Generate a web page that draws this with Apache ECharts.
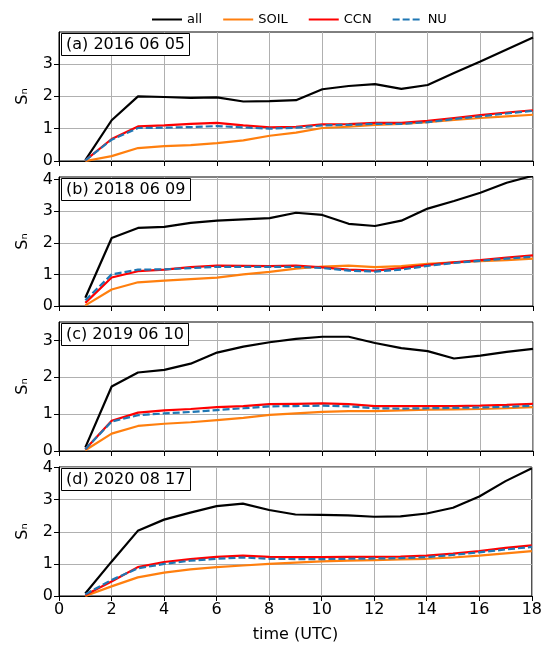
<!DOCTYPE html>
<html>
<head>
<meta charset="utf-8">
<script src="https://cdn.jsdelivr.net/npm/echarts@6/dist/echarts.min.js"></script>
<style>html,body{margin:0;padding:0;background:#fff}#c{width:545px;height:646px}</style>
</head>
<body>
<div id="c"></div>
<script>
const hours = [1,2,3,4,5,6,7,8,9,10,11,12,13,14,15,16,17,18];
const xTicks = [0,2,4,6,8,10,12,14,16,18];
const panelTitles = ['(a) 2016 06 05','(b) 2018 06 09','(c) 2019 06 10','(d) 2020 08 17'];
const seriesNames = ['all','SOIL','CCN','NU'];
const yMax = [3.99, 4.08, 3.5, 4.02];
const yTicks = [[0,1,2,3],[0,1,2,3,4],[0,1,2,3],[0,1,2,3,4]];

const allA  = [0.03,1.26,2.0,1.98,1.95,1.97,1.84,1.85,1.88,2.22,2.32,2.38,2.23,2.35,2.72,3.08,3.45,3.82];
const soilA = [0.0,0.15,0.4,0.46,0.49,0.55,0.64,0.78,0.88,1.02,1.06,1.12,1.15,1.2,1.27,1.33,1.38,1.43];
const ccnA  = [0.02,0.68,1.07,1.1,1.15,1.18,1.1,1.04,1.06,1.13,1.14,1.18,1.18,1.24,1.33,1.42,1.5,1.57];
const nuA   = [0.02,0.66,1.02,1.03,1.05,1.08,1.04,1.0,1.03,1.1,1.12,1.15,1.15,1.2,1.3,1.38,1.47,1.55];

const allB  = [0.26,2.15,2.47,2.5,2.63,2.7,2.74,2.78,2.95,2.88,2.6,2.53,2.7,3.08,3.32,3.58,3.9,4.12];
const soilB = [0.02,0.52,0.75,0.8,0.85,0.9,1.0,1.08,1.18,1.25,1.28,1.23,1.26,1.33,1.38,1.42,1.45,1.5];
const ccnB  = [0.1,0.9,1.1,1.15,1.23,1.28,1.27,1.26,1.28,1.22,1.15,1.12,1.2,1.3,1.38,1.45,1.53,1.6];
const nuB   = [0.18,1.0,1.15,1.16,1.2,1.24,1.24,1.24,1.24,1.2,1.12,1.09,1.15,1.27,1.36,1.43,1.5,1.56];

const allC  = [0.1,1.75,2.13,2.2,2.37,2.67,2.83,2.95,3.04,3.1,3.1,2.93,2.79,2.71,2.51,2.59,2.69,2.77];
const soilC = [0.02,0.47,0.68,0.74,0.78,0.84,0.9,0.98,1.02,1.06,1.08,1.08,1.1,1.12,1.13,1.14,1.16,1.19];
const ccnC  = [0.05,0.82,1.04,1.1,1.14,1.19,1.22,1.27,1.28,1.29,1.27,1.22,1.22,1.22,1.22,1.23,1.25,1.28];
const nuC   = [0.05,0.8,0.97,1.02,1.06,1.11,1.16,1.21,1.22,1.23,1.21,1.16,1.15,1.16,1.17,1.18,1.2,1.23];

const allD  = [0.08,1.07,2.03,2.38,2.6,2.8,2.88,2.68,2.54,2.53,2.51,2.47,2.48,2.57,2.75,3.1,3.58,3.98];
const soilD = [0.0,0.3,0.58,0.73,0.83,0.9,0.95,1.0,1.04,1.08,1.1,1.12,1.14,1.16,1.2,1.26,1.33,1.4];
const ccnD  = [0.03,0.45,0.9,1.06,1.15,1.22,1.26,1.22,1.21,1.21,1.22,1.22,1.23,1.26,1.32,1.4,1.5,1.58];
const nuD   = [0.05,0.5,0.86,1.0,1.1,1.16,1.2,1.16,1.15,1.15,1.16,1.17,1.18,1.21,1.28,1.36,1.45,1.53];

const panels = [
  [allA, soilA, ccnA, nuA],
  [allB, soilB, ccnB, nuB],
  [allC, soilC, ccnC, nuC],
  [allD, soilD, ccnD, nuD]
];

const colors = ['#000000','#ff7f0e','#ff0000','#1f77b4'];
const font = 'DejaVu Sans';
const tops = [32, 177, 322, 467];
const H = 129;

const grids = [], xAxes = [], yAxes = [], series = [], titles = [];
panels.forEach((p, i) => {
  grids.push({left: 59, right: 12, top: tops[i], height: H, show: true, borderColor: '#000', borderWidth: 1, backgroundColor: 'transparent'});
  const last = i === panels.length - 1;
  xAxes.push({
    type: 'value', gridIndex: i, min: 0, max: 18, interval: 2,
    axisLine: {show: true, onZero: false, lineStyle: {color: '#000', width: 1}},
    axisTick: {show: true, length: 5, lineStyle: {color: '#000', width: 1}},
    axisLabel: {show: last, color: '#000', fontFamily: font, fontSize: 16, margin: 6},
    splitLine: {show: true, lineStyle: {color: '#b0b0b0', width: 1}},
    name: last ? 'time (UTC)' : '', nameLocation: 'middle', nameGap: 31,
    nameTextStyle: {color: '#000', fontFamily: font, fontSize: 16}
  });
  yAxes.push({
    type: 'value', gridIndex: i, min: 0, max: yMax[i], interval: 1,
    axisLine: {show: true, lineStyle: {color: '#000', width: 1}},
    axisTick: {show: true, length: 5, customValues: yTicks[i], lineStyle: {color: '#000', width: 1}},
    axisLabel: {color: '#000', fontFamily: font, fontSize: 16, margin: 6, customValues: yTicks[i]},
    splitLine: {show: true, lineStyle: {color: '#b0b0b0', width: 1}},
    name: 'Sₙ', nameLocation: 'middle', nameRotate: 90, nameGap: 28,
    nameTextStyle: {color: '#000', fontFamily: font, fontSize: 16}
  });
  p.forEach((vals, k) => {
    series.push({
      name: seriesNames[k], type: 'line', xAxisIndex: i, yAxisIndex: i,
      data: hours.map((h, j) => [h, vals[j]]),
      symbol: 'none', showSymbol: false, animation: false, z: 2 + k,
      lineStyle: {color: colors[k], width: 2.2, type: k === 3 ? [7, 3] : 'solid'},
      itemStyle: {color: colors[k]}
    });
  });
  titles.push({
    text: panelTitles[i], left: 61, top: tops[i] + 1,
    backgroundColor: '#fff', borderColor: '#000', borderWidth: 1,
    padding: [4, 5, 3, 5],
    textStyle: {color: '#000', fontFamily: font, fontSize: 16, fontWeight: 'normal'}
  });
});

const chart = echarts.init(document.getElementById('c'), null, {renderer: 'canvas'});
chart.setOption({
  animation: false,
  title: titles,
  legend: {
    data: seriesNames, top: 8, left: 146, itemWidth: 30, itemHeight: 10, itemGap: 20,
    itemStyle: {opacity: 0},
    textStyle: {color: '#000', fontFamily: font, fontSize: 13}
  },
  grid: grids, xAxis: xAxes, yAxis: yAxes, series: series
});
</script>
</body>
</html>
